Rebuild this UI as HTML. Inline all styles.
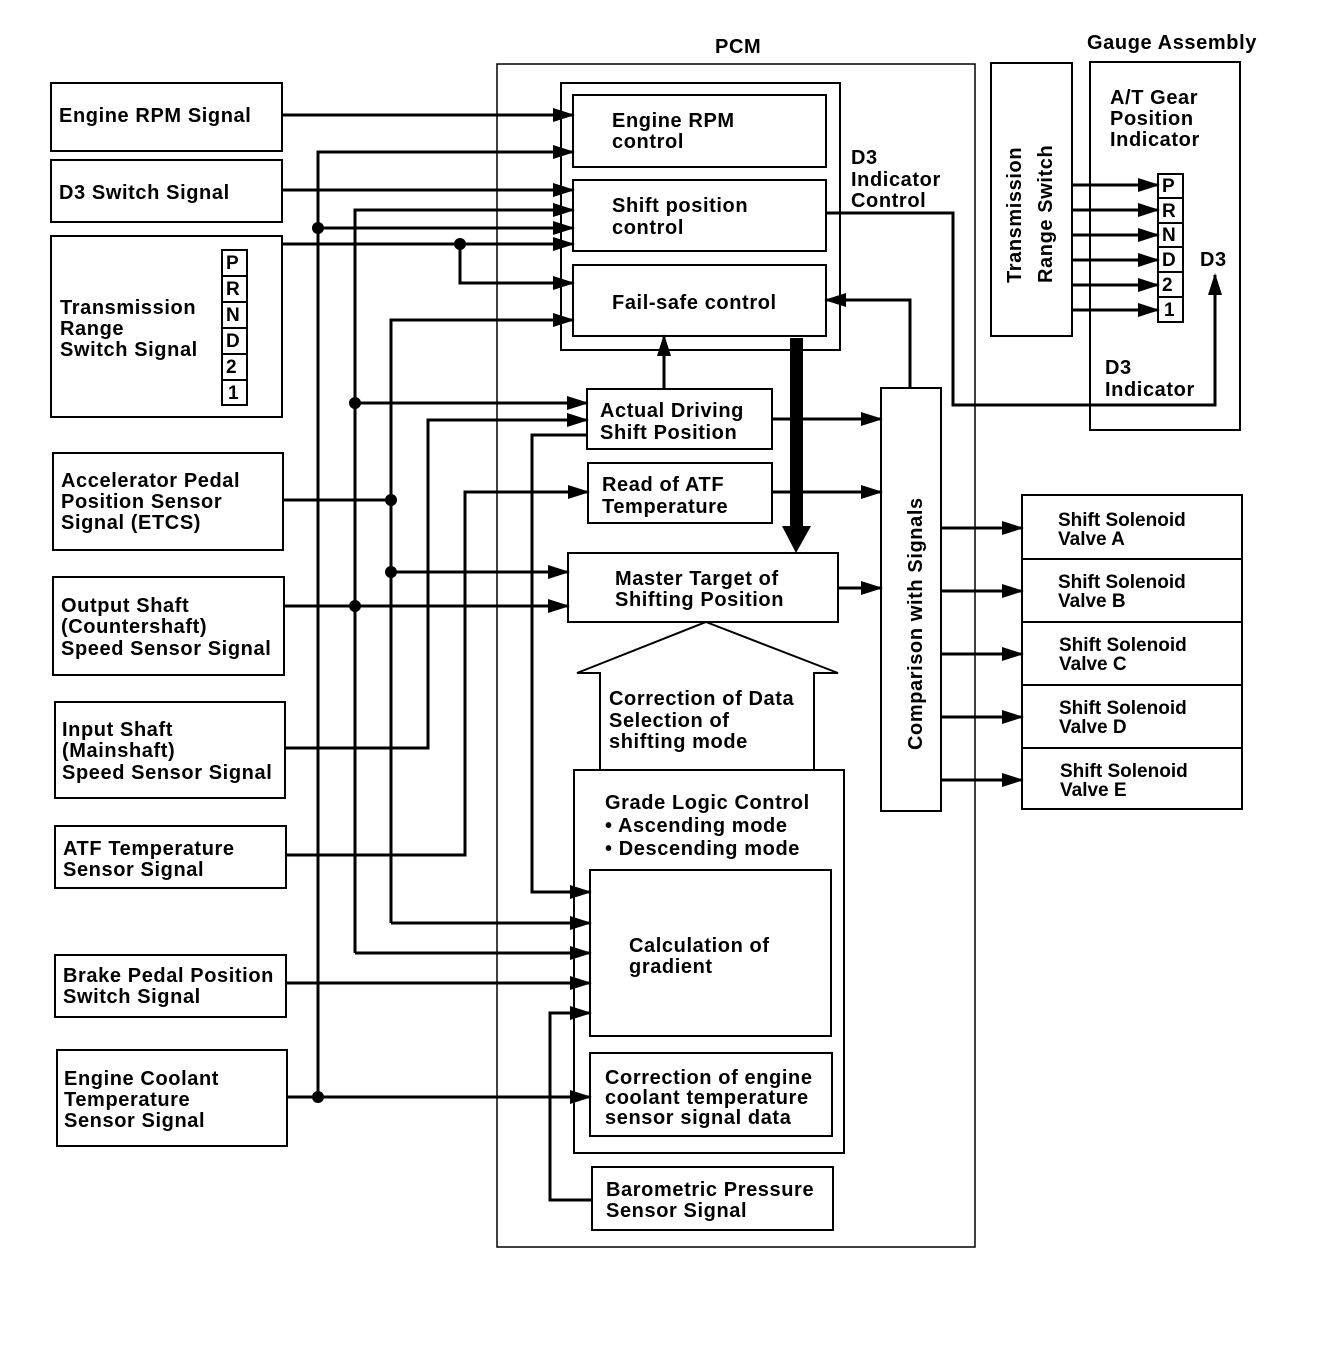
<!DOCTYPE html>
<html><head><meta charset="utf-8"><style>
html,body{margin:0;padding:0;background:#fff}
svg{display:block}
text{font-family:"Liberation Sans",Arial,sans-serif;font-weight:bold;font-size:20px;letter-spacing:0.6px;fill:#000}
.s text{font-size:19px;letter-spacing:0}
</style></head><body>
<svg width="1328" height="1352" viewBox="0 0 1328 1352" xmlns="http://www.w3.org/2000/svg">
<defs>
<marker id="a" markerUnits="userSpaceOnUse" markerWidth="22" markerHeight="14" refX="20" refY="7" orient="auto"><polygon points="0,0 22,7 0,14" fill="#000"/></marker>
</defs>
<g fill="none" stroke="#000" stroke-width="2">
<rect x="497" y="64" width="478" height="1183" stroke-width="1.5"/>
<rect x="51" y="83" width="231" height="68"/>
<rect x="51" y="160" width="231" height="62"/>
<rect x="51" y="236" width="231" height="181"/>
<rect x="53" y="453" width="230" height="97"/>
<rect x="53" y="577" width="231" height="98"/>
<rect x="55" y="702" width="230" height="96"/>
<rect x="55" y="826" width="231" height="62"/>
<rect x="55" y="955" width="231" height="62"/>
<rect x="57" y="1050" width="230" height="96"/>
<rect x="222" y="250" width="25" height="155"/>
<line x1="222" y1="276" x2="247" y2="276"/><line x1="222" y1="302" x2="247" y2="302"/><line x1="222" y1="328" x2="247" y2="328"/><line x1="222" y1="354" x2="247" y2="354"/><line x1="222" y1="380" x2="247" y2="380"/>
<rect x="561" y="83" width="279" height="267"/>
<rect x="573" y="95" width="253" height="72"/>
<rect x="573" y="180" width="253" height="71"/>
<rect x="573" y="265" width="253" height="71"/>
<rect x="587" y="389" width="185" height="60"/>
<rect x="588" y="463" width="184" height="60"/>
<rect x="568" y="553" width="270" height="69"/>
<rect x="881" y="388" width="60" height="423"/>
<polygon points="706,622 838,673 814,673 814,770 600,770 600,673 577,673" fill="#fff"/>
<rect x="574" y="770" width="270" height="383" fill="#fff"/>
<rect x="590" y="870" width="241" height="166"/>
<rect x="590" y="1053" width="242" height="83"/>
<rect x="592" y="1167" width="241" height="63"/>
<rect x="1022" y="495" width="220" height="314"/>
<line x1="1022" y1="559" x2="1242" y2="559"/><line x1="1022" y1="622" x2="1242" y2="622"/><line x1="1022" y1="685" x2="1242" y2="685"/><line x1="1022" y1="748" x2="1242" y2="748"/>
<rect x="1090" y="62" width="150" height="368"/>
<rect x="991" y="63" width="81" height="273"/>
<rect x="1158" y="174" width="25" height="148"/>
<line x1="1158" y1="198" x2="1183" y2="198"/><line x1="1158" y1="223" x2="1183" y2="223"/><line x1="1158" y1="247" x2="1183" y2="247"/><line x1="1158" y1="272" x2="1183" y2="272"/><line x1="1158" y1="297" x2="1183" y2="297"/>
</g>
<g fill="none" stroke="#000" stroke-width="3">
<path d="M282 115H573" marker-end="url(#a)"/>
<path d="M318 1097V152H573" marker-end="url(#a)"/>
<path d="M318 228H573" marker-end="url(#a)"/>
<path d="M282 190H573" marker-end="url(#a)"/>
<path d="M355 953V210H573" marker-end="url(#a)"/>
<path d="M355 953H590" marker-end="url(#a)"/>
<path d="M355 403H587" marker-end="url(#a)"/>
<path d="M284 606H568" marker-end="url(#a)"/>
<path d="M282 244H573" marker-end="url(#a)"/>
<path d="M460 244V283H573" marker-end="url(#a)"/>
<path d="M391 923V320H573" marker-end="url(#a)"/>
<path d="M391 923H590" marker-end="url(#a)"/>
<path d="M283 500H391"/>
<path d="M391 572H568" marker-end="url(#a)"/>
<path d="M285 748H428V420H587" marker-end="url(#a)"/>
<path d="M286 855H465V492H588" marker-end="url(#a)"/>
<path d="M587 435H532V892H590" marker-end="url(#a)"/>
<path d="M286 983H590" marker-end="url(#a)"/>
<path d="M592 1200H550V1013H590" marker-end="url(#a)"/>
<path d="M287 1097H590" marker-end="url(#a)"/>
<path d="M664 389V336" marker-end="url(#a)"/>
<path d="M910 388V300H826" marker-end="url(#a)"/>
<path d="M772 419H881" marker-end="url(#a)"/>
<path d="M772 492H881" marker-end="url(#a)"/>
<path d="M838 588H881" marker-end="url(#a)"/>
<path d="M941 528H1022" marker-end="url(#a)"/>
<path d="M941 591H1022" marker-end="url(#a)"/>
<path d="M941 654H1022" marker-end="url(#a)"/>
<path d="M941 717H1022" marker-end="url(#a)"/>
<path d="M941 780H1022" marker-end="url(#a)"/>
<path d="M826 213H953V405H1215V275" marker-end="url(#a)"/>
<path d="M1072 185H1158" marker-end="url(#a)"/>
<path d="M1072 210H1158" marker-end="url(#a)"/>
<path d="M1072 235H1158" marker-end="url(#a)"/>
<path d="M1072 260H1158" marker-end="url(#a)"/>
<path d="M1072 285H1158" marker-end="url(#a)"/>
<path d="M1072 310H1158" marker-end="url(#a)"/>
</g>
<rect x="790" y="338" width="13" height="190" fill="#000"/>
<polygon points="782,526 811,526 796,553" fill="#000"/>
<g fill="#000">
<circle cx="318" cy="228" r="6"/><circle cx="318" cy="1097" r="6"/>
<circle cx="460" cy="244" r="6"/>
<circle cx="355" cy="403" r="6"/><circle cx="355" cy="606" r="6"/>
<circle cx="391" cy="500" r="6"/><circle cx="391" cy="572" r="6"/>
</g>
<text x="715" y="53">PCM</text>
<text x="1087" y="49">Gauge Assembly</text>
<text x="59" y="122">Engine RPM Signal</text>
<text x="59" y="199">D3 Switch Signal</text>
<text x="60" y="314">Transmission</text><text x="60" y="335">Range</text><text x="60" y="356">Switch Signal</text>
<text x="61" y="487">Accelerator Pedal</text><text x="61" y="508">Position Sensor</text><text x="61" y="529">Signal (ETCS)</text>
<text x="61" y="612">Output Shaft</text><text x="61" y="633">(Countershaft)</text><text x="61" y="655">Speed Sensor Signal</text>
<text x="62" y="736">Input Shaft</text><text x="62" y="757">(Mainshaft)</text><text x="62" y="779">Speed Sensor Signal</text>
<text x="63" y="855">ATF Temperature</text><text x="63" y="876">Sensor Signal</text>
<text x="63" y="982">Brake Pedal Position</text><text x="63" y="1003">Switch Signal</text>
<text x="64" y="1085">Engine Coolant</text><text x="64" y="1106">Temperature</text><text x="64" y="1127">Sensor Signal</text>
<g class="s"><text x="226" y="269">P</text><text x="226" y="295">R</text><text x="226" y="321">N</text><text x="226" y="347">D</text><text x="226" y="373">2</text><text x="228" y="399">1</text>
<text x="1162" y="192">P</text><text x="1162" y="217">R</text><text x="1162" y="241">N</text><text x="1162" y="266">D</text><text x="1162" y="291">2</text><text x="1164" y="316">1</text></g>
<text x="612" y="127">Engine RPM</text><text x="612" y="148">control</text>
<text x="612" y="212">Shift position</text><text x="612" y="234">control</text>
<text x="612" y="309">Fail-safe control</text>
<text x="851" y="164">D3</text><text x="851" y="186">Indicator</text><text x="851" y="207">Control</text>
<text x="600" y="417">Actual Driving</text><text x="600" y="439">Shift Position</text>
<text x="602" y="491">Read of ATF</text><text x="602" y="513">Temperature</text>
<text x="615" y="585">Master Target of</text><text x="615" y="606">Shifting Position</text>
<text x="609" y="705">Correction of Data</text><text x="609" y="727">Selection of</text><text x="609" y="748">shifting mode</text>
<text x="605" y="809">Grade Logic Control</text><text x="605" y="832">• Ascending mode</text><text x="605" y="855">• Descending mode</text>
<text x="629" y="952">Calculation of</text><text x="629" y="973">gradient</text>
<text x="605" y="1084">Correction of engine</text><text x="605" y="1104">coolant temperature</text><text x="605" y="1124">sensor signal data</text>
<text x="606" y="1196">Barometric Pressure</text><text x="606" y="1217">Sensor Signal</text>
<text transform="translate(922,750) rotate(-90)">Comparison with Signals</text>
<text transform="translate(1021,283) rotate(-90)">Transmission</text>
<text transform="translate(1052,283) rotate(-90)">Range Switch</text>
<text x="1110" y="104">A/T Gear</text><text x="1110" y="125">Position</text><text x="1110" y="146">Indicator</text>
<text x="1200" y="266">D3</text>
<text x="1105" y="374">D3</text><text x="1105" y="396">Indicator</text>
<g class="s">
<text x="1058" y="526">Shift Solenoid</text><text x="1058" y="545">Valve A</text>
<text x="1058" y="588">Shift Solenoid</text><text x="1058" y="607">Valve B</text>
<text x="1059" y="651">Shift Solenoid</text><text x="1059" y="670">Valve C</text>
<text x="1059" y="714">Shift Solenoid</text><text x="1059" y="733">Valve D</text>
<text x="1060" y="777">Shift Solenoid</text><text x="1060" y="796">Valve E</text>
</g>
</svg>
</body></html>
